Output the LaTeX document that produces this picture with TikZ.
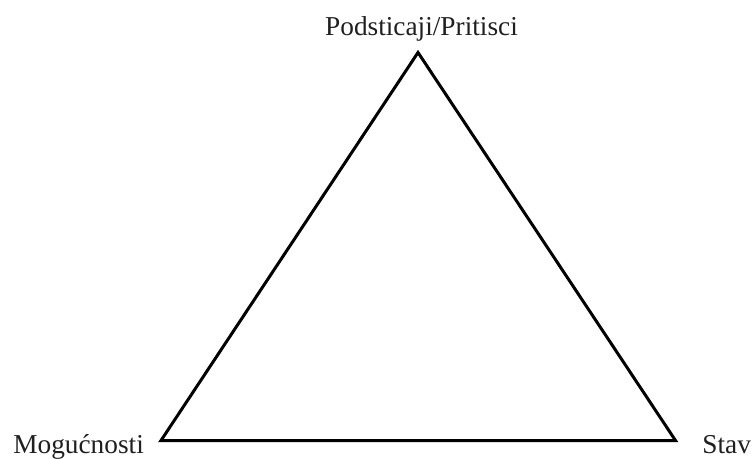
\documentclass[tikz,border=0pt]{standalone}
\usepackage{fontspec}
\setmainfont{Liberation Serif}
\usetikzlibrary{positioning}

\begin{document}
\begin{tikzpicture}[x=0.5pt, y=-0.5pt]
    \useasboundingbox (0,0) rectangle (754,459);
    \coordinate (top) at (418,52.5);
    \coordinate (left) at (161,440.5);
    \coordinate (right) at (675.5,440.5);

    \draw[line width=1.5pt, line join=miter] (top) -- (right) -- (left) -- cycle;

    \node[anchor=base, inner sep=0pt, text=black!88, font=\fontsize{13.65}{16}\selectfont] (pressure) at (421.5,36) {Podsticaji/Pritisci};
    \node[anchor=base west, inner sep=0pt, text=black!88, font=\fontsize{13.65}{16}\selectfont] (chances) at (13,453) {Mogućnosti};
    \node[anchor=base west, inner sep=0pt, text=black!88, font=\fontsize{13.65}{16}\selectfont] (attitude) at (702,453) {Stav};
  \end{tikzpicture}
\end{document}
